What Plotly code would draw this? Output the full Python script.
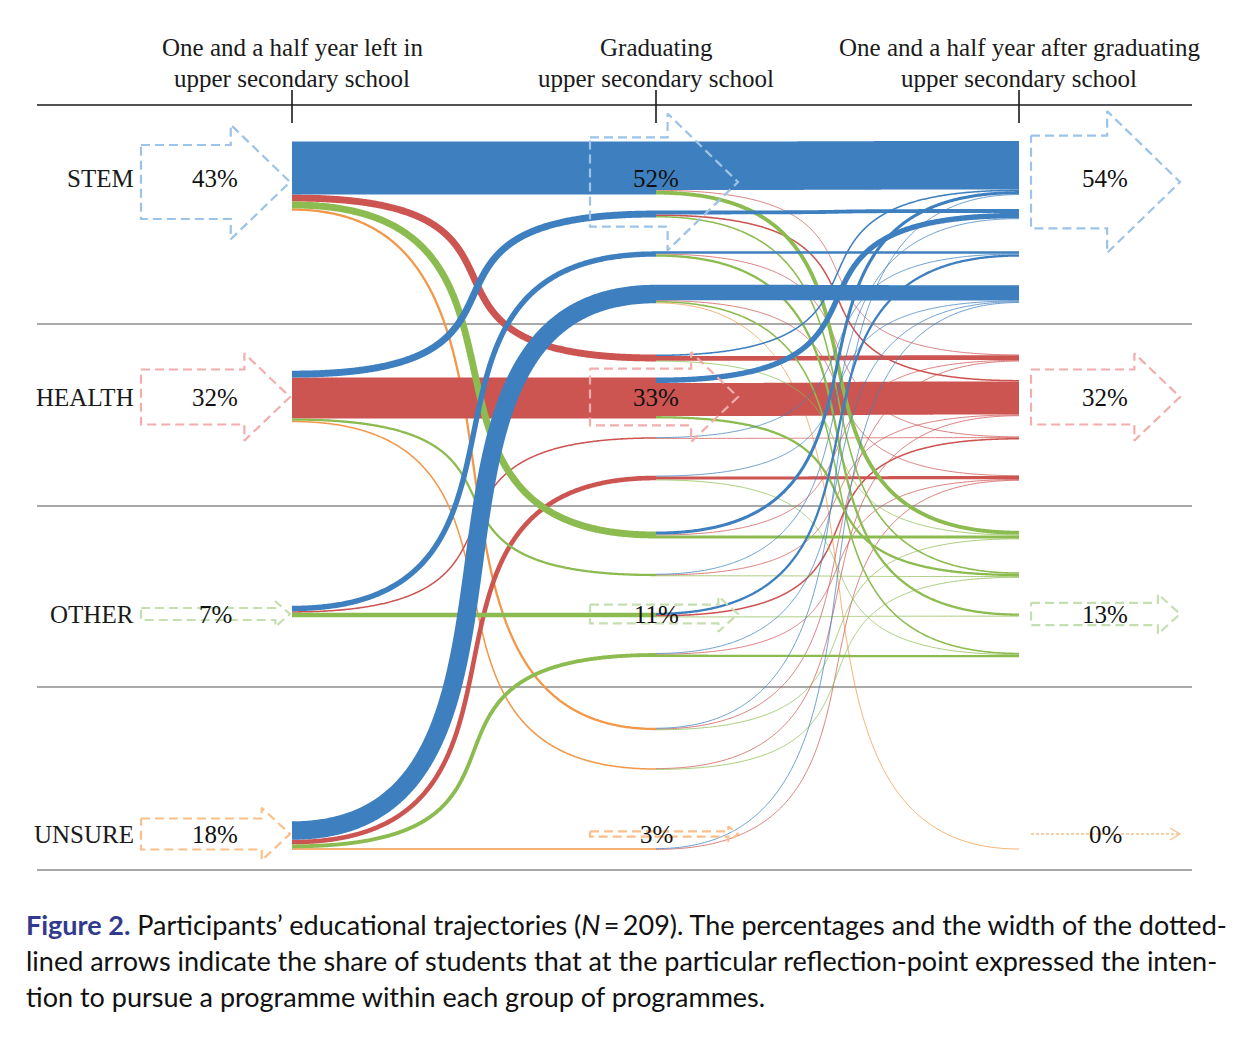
import plotly.graph_objects as go

# ---------------- data (N = 209) ----------------
CATEGORIES = ["STEM", "HEALTH", "OTHER", "UNSURE"]
STAGE_TITLES = [
    ("One and a half year left in", "upper secondary school"),
    ("Graduating", "upper secondary school"),
    ("One and a half year after graduating", "upper secondary school"),
]
# students per trajectory, by category 1.5 years before graduation:
# rows = category at graduation, columns = category 1.5 years after graduation
FROM_STEM = [[63, 1, 5, 0], [2, 6, 1, 0], [4, 1, 4, 0], [1, 1, 1, 0]]
FROM_HEALTH = [[5, 2, 2, 0], [7, 43, 3, 0], [1, 1, 1, 0], [0, 1, 1, 0]]
FROM_OTHER = [[3, 1, 3, 0], [1, 1, 0, 0], [3, 2, 1, 0], [0, 0, 0, 0]]
FROM_UNSURE = [[20, 1, 2, 1], [1, 4, 1, 0], [1, 1, 3, 0], [1, 1, 0, 0]]
N_TOTAL = 209
CAPTION_LINES = [
    "<b><span style='color:#323a8e'>Figure 2.</span></b> Participants\u2019 educational trajectories (<i>N</i>\u2009=\u2009209). The percentages and the width of the dotted-",
    "lined arrows indicate the share of students that at the particular reflection-point expressed the inten-",
    "tion to pursue a programme within each group of programmes.",
]

# ---------------- styling / layout constants ----------------
COLORS = ["#3E7FBF", "#CC5552", "#8CBB50", "#F29848"]
LIGHT = ["#9DC3E6", "#F2AEAC", "#C5DFB0", "#F9C08C"]
SC = 0.77            # px per student
XS = [292, 656, 1019]
YC = [168, 398, 615, 849]
LABEL_Y = [178, 397, 614, 834]
ARROW_Y = [182, 397, 614, 834]
ARROW_LEFT = [141, 590, 1031]
ARROW_TIP = [290, 738, 1180]
PCT_X = [215, 656, 1105]
SEP_Y = [324, 506, 687, 870]
D, GAP, K = 40, 16, 0.8
SERIF = "Liberation Serif"

T = [FROM_STEM, FROM_HEALTH, FROM_OTHER, FROM_UNSURE]
n12 = [[sum(T[a][b]) for b in range(4)] for a in range(4)]
n13 = [[sum(T[a][b][c] for b in range(4)) for c in range(4)] for a in range(4)]
st1 = [sum(n12[a]) for a in range(4)]
st2 = [sum(n12[a][b] for a in range(4)) for b in range(4)]
st3 = [sum(n13[a][c] for a in range(4)) for c in range(4)]
pcts = [[int(round(100 * v / N_TOTAL)) for v in st] for st in (st1, st2, st3)]

# stage 1: node a, rows b stacked, main row centred on YC
s1_mid = {}
for a in range(4):
    w = [n12[a][b] * SC for b in range(4)]
    y = YC[a] - sum(w[:a]) - w[a] / 2
    for b in range(4):
        s1_mid[(a, b)] = y + w[b] / 2
        y += w[b]


def row_centers(widths, main, yc):
    c = [0.0] * 4
    c[main] = yc
    for k in range(main + 1, 4):
        c[k] = c[k - 1] + max(D, widths[k - 1] / 2 + widths[k] / 2 + GAP)
    for k in range(main - 1, -1, -1):
        c[k] = c[k + 1] - max(D, widths[k + 1] / 2 + widths[k] / 2 + GAP)
    return c


# stage 2 (and 3) node b, row a (origin)
rc = [row_centers([n12[a][b] * SC for a in range(4)], b, YC[b]) for b in range(4)]


def bez(x0, y0, x1, y1, n=500):
    W = x1 - x0
    p1x, p2x = x0 + K * W, x1 - K * W
    xs, ys = [], []
    for i in range(n + 1):
        t = i / n
        u = 1 - t
        xs.append(u**3 * x0 + 3 * u * u * t * p1x + 3 * u * t * t * p2x + t**3 * x1)
        ys.append(u**3 * y0 + 3 * u * u * t * y0 + 3 * u * t * t * y1 + t**3 * y1)
    return xs, ys


flows = []
for a in range(4):
    for b in range(4):
        if n12[a][b]:
            flows.append((b, n12[a][b], XS[0], s1_mid[(a, b)], XS[1], rc[b][a]))
for a in range(4):
    for b in range(4):
        top2 = rc[b][a] - n12[a][b] * SC / 2
        for c in range(4):
            v = T[a][b][c]
            if not v:
                continue
            y0 = top2 + sum(T[a][b][:c]) * SC + v * SC / 2
            top3 = rc[c][a] - n13[a][c] * SC / 2
            y1 = top3 + sum(T[a][bb][c] for bb in range(b)) * SC + v * SC / 2
            flows.append((c, v, XS[1], y0, XS[2], y1))

DRAW_ORDER = [3, 1, 2, 0]
flows.sort(key=lambda f: (DRAW_ORDER.index(f[0]), -f[1]))

fig = go.Figure()
for col, v, x0, y0, x1, y1 in flows:
    if y0 == y1:
        xs, ys = [x0, x1], [y0, y1]
    else:
        xs, ys = bez(x0, y0, x1, y1)
    fig.add_trace(go.Scatter(x=xs, y=ys, mode="lines", hoverinfo="skip", showlegend=False,
                             line=dict(color=COLORS[col], width=v * SC, simplify=False)))

# dashed arrows
for s in range(3):
    for i in range(4):
        p = pcts[s][i]
        y = ARROW_Y[i]
        left, tip = ARROW_LEFT[s], ARROW_TIP[s]
        if p == 0:
            fig.add_trace(go.Scatter(x=[left, tip], y=[y, y], mode="lines", hoverinfo="skip",
                                     showlegend=False,
                                     line=dict(color=LIGHT[i], width=1.3, dash="3px,2px")))
            fig.add_trace(go.Scatter(x=[tip - 10, tip, tip - 10], y=[y - 6, y, y + 6], mode="lines",
                                     hoverinfo="skip", showlegend=False,
                                     line=dict(color=LIGHT[i], width=1.3)))
            continue
        h = p * 1.72
        hh = h / 2 + 0.22 * h + 4
        base = tip - (hh + 2)
        px = [left, base, base, tip, base, base, left, left]
        py = [y - h / 2, y - h / 2, y - hh, y, y + hh, y + h / 2, y + h / 2, y - h / 2]
        fig.add_trace(go.Scatter(x=px, y=py, mode="lines", hoverinfo="skip", showlegend=False,
                                 line=dict(color=LIGHT[i], width=2.2, dash="9px,5px")))

shapes = []
for y in SEP_Y:
    shapes.append(dict(type="line", x0=37, x1=1192, y0=y, y1=y, layer="below",
                       line=dict(color="#8c8c8c", width=1.6)))
shapes.append(dict(type="line", x0=37, x1=1192, y0=105, y1=105, layer="below",
                   line=dict(color="#1a1a1a", width=1.6)))
for x in XS:
    shapes.append(dict(type="line", x0=x, x1=x, y0=90, y1=123, layer="above",
                       line=dict(color="#1a1a1a", width=1.6)))

ann = []
for s, (l1, l2) in enumerate(STAGE_TITLES):
    for txt, y in ((l1, 47), (l2, 78)):
        ann.append(dict(x=XS[s], y=y, text=txt, showarrow=False, xanchor="center", yanchor="middle",
                        font=dict(family=SERIF, size=25, color="#1a1a1a")))
for i, name in enumerate(CATEGORIES):
    ann.append(dict(x=136, y=LABEL_Y[i], text=name, showarrow=False, xanchor="right", yanchor="middle",
                    font=dict(family=SERIF, size=25, color="#1a1a1a")))
    for s in range(3):
        ann.append(dict(x=PCT_X[s], y=LABEL_Y[i], text=f"{pcts[s][i]}%", showarrow=False,
                        xanchor="center", yanchor="middle",
                        font=dict(family=SERIF, size=25, color="#111111")))
for j, line in enumerate(CAPTION_LINES):
    ann.append(dict(x=24, y=924 + 36 * j, text=line, showarrow=False, xanchor="left", yanchor="middle",
                    font=dict(family="Lato", size=27, color="#111111")))

fig.update_layout(
    width=1244, height=1032, margin=dict(l=0, r=0, t=0, b=0),
    paper_bgcolor="white", plot_bgcolor="white",
    xaxis=dict(range=[8, 1252], visible=False, fixedrange=True),
    yaxis=dict(range=[1040, 8], visible=False, fixedrange=True),
    shapes=shapes, annotations=ann, showlegend=False,
)
fig.write_html("out.html", config={"displayModeBar": False})
